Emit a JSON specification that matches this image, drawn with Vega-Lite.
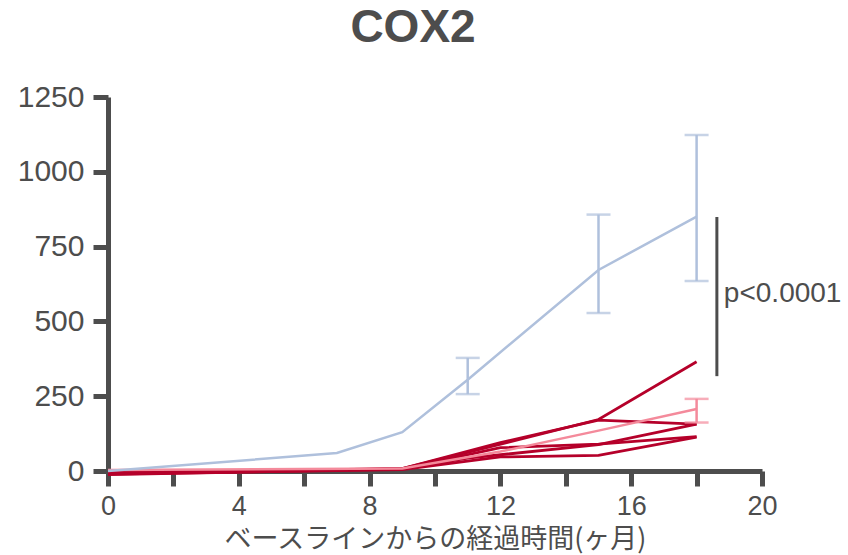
{
  "$schema": "https://vega.github.io/schema/vega-lite/v6.json",
  "width": 654,
  "height": 374,
  "autosize": {"type": "none"},
  "padding": {"left": 108, "top": 97, "right": 86, "bottom": 84},
  "background": "white",
  "title": {
    "text": "COX2",
    "font": "Liberation Sans",
    "fontSize": 46,
    "fontWeight": "bold",
    "color": "#4d4d4d",
    "anchor": "middle",
    "dx": -22,
    "offset": 30
  },
  "datasets": {
    "lines": [
      {"series": "s1", "grp": "red", "t": 0, "v": -8},
      {"series": "s1", "grp": "red", "t": 9, "v": 8},
      {"series": "s1", "grp": "red", "t": 11, "v": 62},
      {"series": "s1", "grp": "red", "t": 15, "v": 172},
      {"series": "s1", "grp": "red", "t": 18, "v": 365},
      {"series": "s2", "grp": "red", "t": 0, "v": -5},
      {"series": "s2", "grp": "red", "t": 9, "v": 8},
      {"series": "s2", "grp": "red", "t": 12, "v": 95},
      {"series": "s2", "grp": "red", "t": 15, "v": 170},
      {"series": "s2", "grp": "red", "t": 18, "v": 157},
      {"series": "s3", "grp": "red", "t": 0, "v": -12},
      {"series": "s3", "grp": "red", "t": 9, "v": 6},
      {"series": "s3", "grp": "red", "t": 11, "v": 43},
      {"series": "s3", "grp": "red", "t": 15, "v": 88},
      {"series": "s3", "grp": "red", "t": 18, "v": 157},
      {"series": "s4", "grp": "red", "t": 0, "v": -10},
      {"series": "s4", "grp": "red", "t": 9, "v": 5},
      {"series": "s4", "grp": "red", "t": 12, "v": 47},
      {"series": "s4", "grp": "red", "t": 15, "v": 52},
      {"series": "s4", "grp": "red", "t": 18, "v": 113},
      {"series": "s5", "grp": "red", "t": 0, "v": -6},
      {"series": "s5", "grp": "red", "t": 9, "v": 7},
      {"series": "s5", "grp": "red", "t": 12, "v": 78},
      {"series": "s5", "grp": "red", "t": 15, "v": 90},
      {"series": "s5", "grp": "red", "t": 18, "v": 115},
      {"series": "pink", "grp": "pink", "t": 0, "v": 3},
      {"series": "pink", "grp": "pink", "t": 9, "v": 8},
      {"series": "pink", "grp": "pink", "t": 12, "v": 65},
      {"series": "pink", "grp": "pink", "t": 15, "v": 135},
      {"series": "pink", "grp": "pink", "t": 18, "v": 207},
      {"series": "blue", "grp": "blue", "t": 0, "v": 0},
      {"series": "blue", "grp": "blue", "t": 7, "v": 60},
      {"series": "blue", "grp": "blue", "t": 9, "v": 130},
      {"series": "blue", "grp": "blue", "t": 11, "v": 305},
      {"series": "blue", "grp": "blue", "t": 15, "v": 672},
      {"series": "blue", "grp": "blue", "t": 18, "v": 850}
    ],
    "errors": [
      {"grp": "blue", "t": 11, "lo": 257, "hi": 378},
      {"grp": "blue", "t": 15, "lo": 528, "hi": 857},
      {"grp": "blue", "t": 18, "lo": 635, "hi": 1123},
      {"grp": "pink", "t": 18, "lo": 162, "hi": 241}
    ],
    "annot": [
      {"t": 18.62, "lo": 317, "hi": 849, "mid": 590, "label": "p<0.0001"}
    ]
  },
  "encoding": {
    "x": {
      "field": "t",
      "type": "quantitative",
      "scale": {"domain": [0, 20], "nice": false, "zero": false},
      "axis": {
        "values": [0, 2, 4, 6, 8, 10, 12, 14, 16, 18, 20],
        "labelExpr": "datum.value % 4 == 0 ? datum.label : ''",
        "labelFlush": false,
        "labelOverlap": false,
        "title": "ベースラインからの経過時間(ヶ月)"
      }
    }
  },
  "layer": [
    {
      "data": {"name": "lines"},
      "transform": [{"filter": "datum.grp == 'red'"}],
      "mark": {"type": "line", "strokeWidth": 2.8, "color": "#b5002a"},
      "encoding": {
        "y": {
          "field": "v",
          "type": "quantitative",
          "scale": {"domain": [0, 1250], "nice": false, "clamp": false},
          "axis": {"values": [0, 250, 500, 750, 1000, 1250], "format": "d", "title": null}
        },
        "detail": {"field": "series"},
        "order": {"field": "t"}
      }
    },
    {
      "data": {"name": "lines"},
      "transform": [{"filter": "datum.grp == 'pink'"}],
      "mark": {"type": "line", "strokeWidth": 2.5, "color": "#f48a9b"},
      "encoding": {
        "y": {"field": "v", "type": "quantitative"},
        "order": {"field": "t"}
      }
    },
    {
      "data": {"name": "lines"},
      "transform": [{"filter": "datum.grp == 'blue'"}],
      "mark": {"type": "line", "strokeWidth": 2.5, "color": "#afc0dc"},
      "encoding": {
        "y": {"field": "v", "type": "quantitative"},
        "order": {"field": "t"}
      }
    },
    {
      "data": {"name": "errors"},
      "mark": {"type": "errorbar", "ticks": {"size": 24, "thickness": 2.5}, "rule": {"strokeWidth": 2.5}, "thickness": 2.5},
      "encoding": {
        "y": {"field": "lo", "type": "quantitative"},
        "y2": {"field": "hi"},
        "color": {
          "field": "grp",
          "type": "nominal",
          "scale": {"domain": ["blue", "pink"], "range": ["#afc0dc", "#f48a9b"]},
          "legend": null
        }
      }
    },
    {
      "data": {"name": "annot"},
      "mark": {"type": "rule", "strokeWidth": 3, "color": "#4d4d4d"},
      "encoding": {
        "y": {"field": "lo", "type": "quantitative"},
        "y2": {"field": "hi"}
      }
    },
    {
      "data": {"name": "annot"},
      "mark": {"type": "text", "align": "left", "baseline": "middle", "dx": 7, "font": "Liberation Sans", "fontSize": 28, "color": "#4d4d4d"},
      "encoding": {
        "y": {"field": "mid", "type": "quantitative"},
        "text": {"field": "label"}
      }
    }
  ],
  "config": {
    "view": {"stroke": null},
    "axis": {
      "grid": false,
      "domainColor": "#4d4d4d",
      "domainWidth": 5,
      "tickColor": "#4d4d4d",
      "tickWidth": 5,
      "tickSize": 15,
      "labelFont": "Liberation Sans",
      "labelFontSize": 29,
      "labelColor": "#4d4d4d",
      "titleFont": "Noto Sans CJK JP",
      "titleFontSize": 27,
      "titleFontWeight": "normal",
      "titleColor": "#4d4d4d"
    },
    "axisX": {"labelPadding": 7, "labelFontSize": 27, "titlePadding": 7},
    "axisY": {"labelPadding": 9, "labelFontSize": 30}
  }
}
